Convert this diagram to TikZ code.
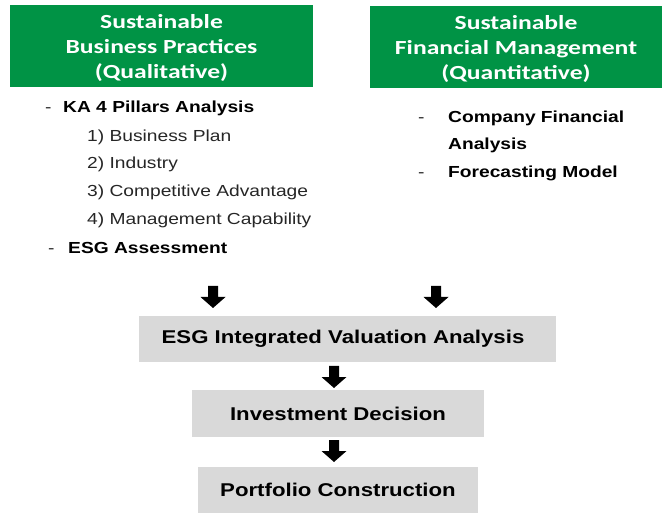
\documentclass[tikz,border=0pt]{standalone}
\usepackage{fontspec}
\newfontfamily\hfont{Carlito}[FakeStretch=1.28]
\newfontfamily\rfont{Liberation Sans}[FakeStretch=1.2]
\newfontfamily\bfont{Liberation Sans}[FakeStretch=1.2]
\definecolor{hgreen}{RGB}{0,147,69}
\definecolor{boxgray}{RGB}{217,217,217}
\tikzset{
  header/.style={fill=hgreen, text=white, align=center, inner sep=0pt,
    font=\hfont\bfseries\fontsize{20}{25}\selectfont},
  item/.style={anchor=base west, inner sep=0pt, text=black!85, font=\rfont\fontsize{16}{19}\selectfont},
  bitem/.style={anchor=base west, inner sep=0pt, text=black, font=\bfont\bfseries\fontsize{16}{19}\selectfont},
  dashmark/.style={anchor=base west, inner sep=0pt, text=black!85, font=\rfont\fontsize{16}{19}\selectfont},
  stage/.style={fill=boxgray, inner sep=0pt, text=black, font=\bfont\bfseries\fontsize{18.5}{22}\selectfont},
  darr/.pic={\fill[black] (-5,0) -- (5,0) -- (5,11) -- (12.5,11) -- (0,22) -- (-12.5,11) -- (-5,11) -- cycle;}
}
\begin{document}
\begin{tikzpicture}[x=1pt,y=-1pt]
\useasboundingbox (0,0) rectangle (662,513);
% headers
\node[header, minimum width=303pt, minimum height=82pt] (hl) at (161.5,46) {};
\node[header, fill=none] (hlt) at (161.5,48) {Sustainable\\Business Practices\\(Qualitative)};
\node[header, minimum width=292pt, minimum height=82pt] (hr) at (516,47) {};
\node[header, fill=none] (hrt) at (516,49) {Sustainable\\Financial Management\\(Quantitative)};
% left list
\node[dashmark] (d1) at (45,113) {-};
\node[bitem] (ka) at (63,113) {KA 4 Pillars Analysis};
\node[item] (i1) at (87,142) {1) Business Plan};
\node[item] (i2) at (87,169) {2) Industry};
\node[item] (i3) at (87,197) {3) Competitive Advantage};
\node[item] (i4) at (87,225) {4) Management Capability};
\node[dashmark] (d2) at (48,254) {-};
\node[bitem] (esg) at (68,254) {ESG Assessment};
% right list
\node[dashmark] (d3) at (418,123) {-};
\node[bitem] (cfa) at (448,123) {Company Financial};
\node[bitem] (cfb) at (448,150) {Analysis};
\node[dashmark] (d4) at (418,178) {-};
\node[bitem] (fm) at (448,178) {Forecasting Model};
% stages
\node[stage, minimum width=417pt, minimum height=46pt] (s1) at (347.5,339) {};
\node[stage, fill=none] (s1t) at (343,339) {ESG Integrated Valuation Analysis};
\node[stage, minimum width=292pt, minimum height=47pt] (s2) at (338,413.5) {Investment Decision};
\node[stage, minimum width=280pt, minimum height=46pt] (s3) at (338,490) {Portfolio Construction};
% block arrows
\coordinate (a1) at (213,286);
\coordinate (a2) at (436,286);
\coordinate (a3) at (334,366);
\coordinate (a4) at (334,440);
\pic at (a1) {darr};
\pic at (a2) {darr};
\pic at (a3) {darr};
\pic at (a4) {darr};
\end{tikzpicture}
\end{document}
